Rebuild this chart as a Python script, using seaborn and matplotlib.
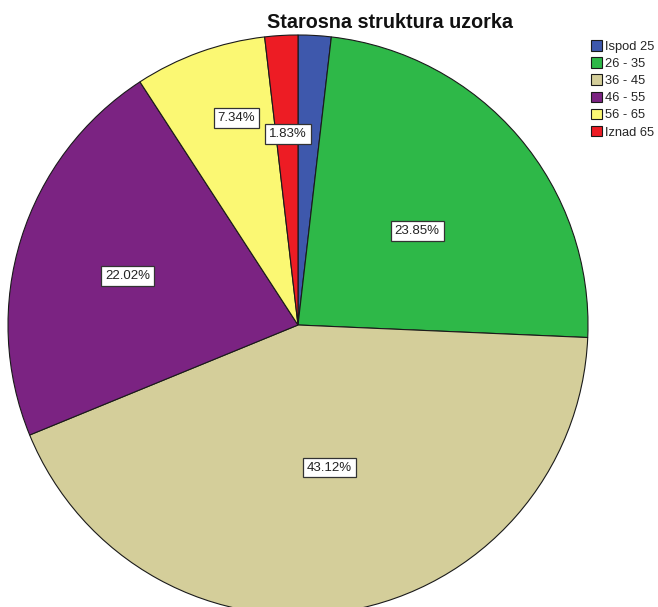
import matplotlib
matplotlib.use("Agg")
import matplotlib.pyplot as plt
import seaborn as sns
import numpy as np

categories = ["Ispod 25", "26 - 35", "36 - 45", "46 - 55", "56 - 65", "Iznad 65"]
counts = [2, 26, 47, 24, 8, 2]
pct_labels = ["", "23.85%", "43.12%", "22.02%", "7.34%", "1.83%"]
colors = ["#3E58AC", "#2EB848", "#D4CE9A", "#7B2382", "#FBF873", "#ED1C24"]
label_radius = [0.5, 0.523, 0.503, 0.612, 0.746, 0.661]
label_angle_shift = [0.0, 2.2, -2.4, -1.2, 3.3, 0.3]

sns.set_style("white")
plt.rcParams["font.family"] = ["Liberation Sans", "DejaVu Sans"]

fig = plt.figure(figsize=(6.58, 6.07), dpi=100)
ax = fig.add_axes([0, 0, 1, 1])
cx, cy, R = 298, 282, 290
wedges, _ = ax.pie(counts, colors=colors, startangle=90, counterclock=False,
                   center=(cx, cy), radius=R,
                   wedgeprops=dict(edgecolor="#1a1a1a", linewidth=0.8))
ax.set_xlim(0, 658)
ax.set_ylim(0, 607)
ax.set_aspect("equal")
ax.axis("off")

total = sum(counts)
start = 90.0
for c, lab, r, sh in zip(counts, pct_labels, label_radius, label_angle_shift):
    sweep = 360.0 * c / total
    mid = np.deg2rad(start - sweep / 2 - sh)
    start -= sweep
    if not lab:
        continue
    ax.text(cx + r * R * np.cos(mid), cy + r * R * np.sin(mid), lab,
            ha="center", va="center", fontsize=9.5, color="#222222",
            bbox=dict(boxstyle="square,pad=0.3", facecolor="white",
                      edgecolor="#333333", linewidth=0.9))

fig.text(390 / 658, 1 - 22 / 607, "Starosna struktura uzorka", ha="center",
         va="center", fontsize=14.2, fontweight="bold", color="#111111")

fig.legend(wedges, categories, loc="upper left",
           bbox_to_anchor=(590 / 658, 1 - 39 / 607), frameon=False,
           fontsize=9.3, handlelength=0.8, handleheight=0.9, handletextpad=0.25,
           labelspacing=0.33, borderpad=0.1, borderaxespad=0)

fig.savefig("out.png", dpi=100)
